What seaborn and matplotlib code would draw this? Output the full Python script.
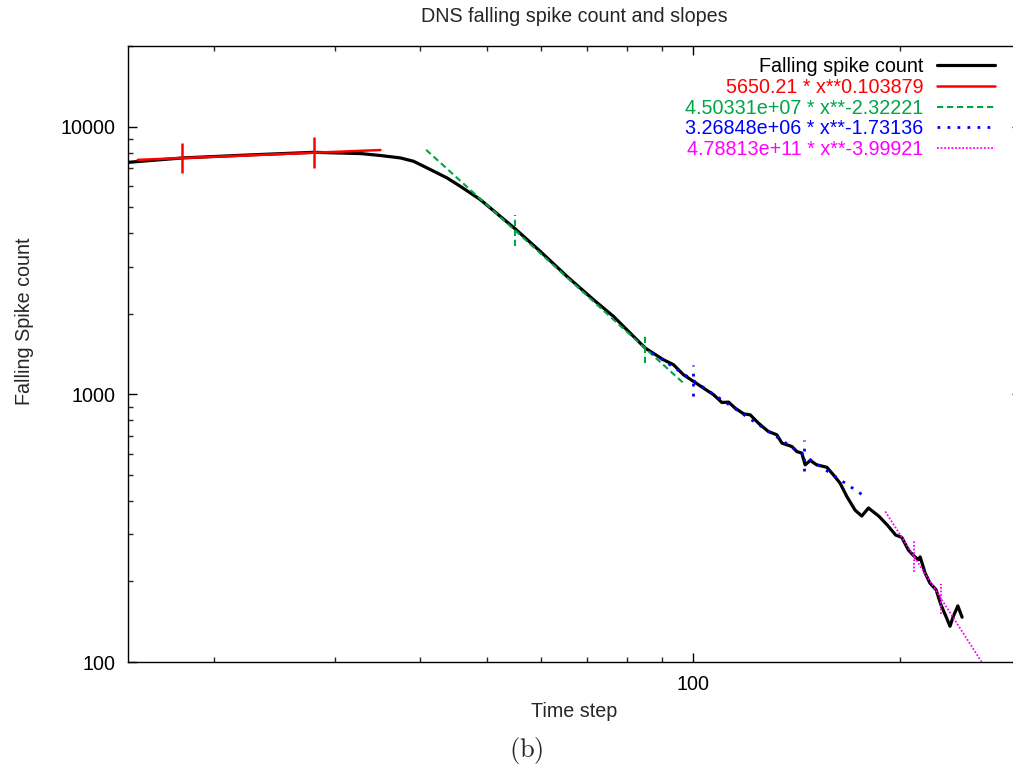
import numpy as np
import matplotlib
matplotlib.use("Agg")
import matplotlib.pyplot as plt
import seaborn as sns
from matplotlib.ticker import FixedLocator, FixedFormatter, NullFormatter

# ---------------- data ----------------
time_step = [15.02, 18.03, 22.62, 28.0, 32.82, 35.11, 37.42, 39.13, 41.39, 43.77,
             45.77, 47.33, 48.94,
             55.04, 59.86, 65.46, 71.56, 76.54, 85.13, 90.5, 93.6, 96.8, 100.1,
             103.5, 107.1, 110.1, 112.6, 115.1, 118.4, 121.1, 124.5, 128.7, 132.4,
             134.7, 139.3, 141.6, 144.0, 145.6, 148.1, 151.4, 156.6, 160.1, 163.7,
             167.5, 172.2, 176.1, 180.1, 186.6, 192.0, 197.3, 201.4, 205.9, 209.4,
             212.9, 214.2, 217.8, 221.4, 226.0, 229.8, 233.6, 236.8, 239.4, 243.1,
             246.6]
spike_count = [7354, 7638, 7839, 8015, 7926, 7791, 7638, 7418, 6909, 6430,
               5981, 5651, 5336,
               4147, 3418, 2757, 2256, 1953, 1488, 1346, 1290, 1183, 1117,
               1055, 996, 932, 935, 888, 846, 838, 780, 726, 706,
               657, 638, 611, 603, 545, 566, 545, 534, 500, 466,
               415, 369, 351, 376, 350, 324, 298, 292, 262, 250,
               241, 247, 215, 197, 186, 163, 148, 136, 148, 162,
               147]

fit_labels = ["5650.21 * x**0.103879", "4.50331e+07 * x**-2.32221",
              "3.26848e+06 * x**-1.73136", "4.78813e+11 * x**-3.99921"]
fit_coef = [5650.21, 4.50331e7, 3.26848e6, 4.78813e11]
fit_exp = [0.103879, -2.32221, -1.73136, -3.99921]
fit_line_start = [15.5, 40.8, 87.1, 190.5]
fit_line_end = [35.0, 97.3, 178.1, 270.0]
fit_bound_lo = [18, 55, 100, 210]
fit_bound_hi = [28, 85, 145, 230]

x_major = [100]
x_minor = [20, 30, 40, 50, 60, 70, 80, 90, 200, 300]
y_major = [100, 1000, 10000]
y_minor = [200, 300, 400, 500, 600, 700, 800, 900,
           2000, 3000, 4000, 5000, 6000, 7000, 8000, 9000, 20000]

# ---------------- styles ----------------
fit_colors = ["#ff0000", "#00a546", "#0000ff", "#ff00ff"]
fit_styles = ["-", (0, (3.0, 1.8)), (0, (1.0, 2.6)), (0, (1.0, 1.0))]
fit_widths = [1.8, 1.5, 2.0, 1.3]
FS = 14.2

sns.set_style("white")
plt.rcParams["font.family"] = ["Liberation Sans", "DejaVu Sans"]
plt.rcParams["mathtext.fontset"] = "cm"

fig = plt.figure(figsize=(10.13, 7.71), dpi=100)
ax = fig.add_axes([128 / 1013, 1 - 662 / 771, (1020.5 - 128) / 1013, (662 - 46) / 771])
ax.set_xscale("log")
ax.set_yscale("log")

sns.lineplot(x=time_step, y=spike_count, ax=ax, color="black", lw=2.3,
             label="Falling spike count", estimator=None, sort=False, zorder=2)

for i in range(4):
    xs = np.array([fit_line_start[i], fit_line_end[i]])
    ys = fit_coef[i] * xs ** fit_exp[i]
    sns.lineplot(x=xs, y=ys, ax=ax, color=fit_colors[i], lw=fit_widths[i],
                 linestyle=fit_styles[i], label=fit_labels[i],
                 estimator=None, sort=False, zorder=3)
    bx = np.array([fit_bound_lo[i], fit_bound_hi[i]])
    by = fit_coef[i] * bx ** fit_exp[i]
    f = 10 ** 0.057
    ax.vlines(bx, by / f, by * f, colors=fit_colors[i], lw=fit_widths[i],
              linestyles=[fit_styles[i]], zorder=3)

ax.set_xlim(15, 300)
ax.set_ylim(100, 20000)

ax.xaxis.set_major_locator(FixedLocator(x_major))
ax.xaxis.set_major_formatter(FixedFormatter([str(v) for v in x_major]))
ax.xaxis.set_minor_locator(FixedLocator(x_minor))
ax.xaxis.set_minor_formatter(NullFormatter())
ax.yaxis.set_major_locator(FixedLocator(y_major))
ax.yaxis.set_major_formatter(FixedFormatter([str(v) for v in y_major]))
ax.yaxis.set_minor_locator(FixedLocator(y_minor))
ax.yaxis.set_minor_formatter(NullFormatter())

ax.tick_params(which="major", direction="in", length=6.5, width=1.0,
               top=True, right=True, bottom=True, left=True, pad=9,
               labelsize=FS, colors="black")
ax.tick_params(which="minor", direction="in", length=3.3, width=1.0,
               top=True, right=True, bottom=True, left=True)
for s in ax.spines.values():
    s.set_linewidth(1.0)
    s.set_color("black")

ax.set_title("DNS falling spike count and slopes", fontsize=FS, pad=17)
ax.set_xlabel("Time step", fontsize=FS, labelpad=6)
ax.set_ylabel("Falling Spike count", fontsize=FS)
ax.yaxis.set_label_coords((34 - 128) / 892.5, (662 - 321.7) / 616)

handles, labels = ax.get_legend_handles_labels()
leg = ax.legend(handles, labels, loc="upper right",
                bbox_to_anchor=(995 / 1013, 1 - 57 / 771),
                bbox_transform=fig.transFigure, frameon=False,
                markerfirst=False, fontsize=FS, handlelength=2.94,
                handletextpad=0.71, labelspacing=0.09, borderpad=0,
                borderaxespad=0, labelcolor="linecolor")

fig.text(526 / 1013, 1 - 751 / 771, r"$\mathrm{(b)}$", ha="center", va="center",
         fontsize=19)

fig.savefig("out.png", dpi=100)
